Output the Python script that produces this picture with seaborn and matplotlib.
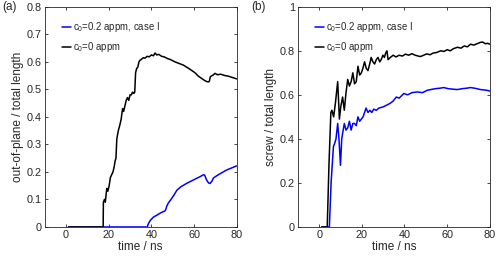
import matplotlib

matplotlib.use("Agg")

import matplotlib.pyplot as plt
import pandas as pd
import seaborn as sns

LABEL_C02 = "c$_0$=0.2 appm, case I"
LABEL_C00 = "c$_0$=0 appm"

# (a) out-of-plane fraction
a_black_t = [1.1, 17.4, 17.5, 18.0, 18.4, 18.8, 19.1, 19.6, 20.2, 20.8,
             21.4, 22.0, 22.6, 23.0, 23.4, 23.8, 24.5, 25.2, 25.8, 26.5,
             27.0, 27.6, 28.2, 28.8, 29.4, 30.0, 30.6, 31.2, 31.8, 32.2,
             32.6, 33.1, 33.6, 34.2, 34.7, 35.5, 36.2, 37.0, 38.0, 39.0,
             40.0, 41.0, 41.7, 42.5, 43.5, 44.8, 46.0, 47.5, 49.0, 51.0,
             53.0, 55.0, 57.3, 59.0, 60.5, 62.0, 63.5, 65.0, 66.0, 66.8,
             67.2, 67.6, 68.0, 69.0, 69.8, 71.0, 72.5, 74.5, 76.0, 78.0, 80.0]
a_black_v = [0, 0, 0.09, 0.10, 0.09, 0.12, 0.14, 0.13, 0.15, 0.18,
             0.19, 0.20, 0.22, 0.24, 0.25, 0.32, 0.35, 0.37, 0.39, 0.43,
             0.42, 0.44, 0.46, 0.47, 0.46, 0.48, 0.48, 0.49, 0.485, 0.49,
             0.56, 0.576, 0.58, 0.60, 0.606, 0.61, 0.615, 0.613, 0.62, 0.618,
             0.625, 0.622, 0.632, 0.625, 0.627, 0.62, 0.618, 0.612, 0.608, 0.60,
             0.594, 0.588, 0.577, 0.568, 0.56, 0.548, 0.54, 0.532, 0.528, 0.527,
             0.53, 0.545, 0.548, 0.552, 0.558, 0.553, 0.555, 0.55, 0.548, 0.543, 0.538]

a_blue_t = [1.1, 38.1, 38.6, 39.6, 41.0, 42.8, 44.5, 46.0, 46.6, 47.2,
            48.0, 49.0, 50.5, 52.0, 54.0, 56.7, 59.0, 61.0, 62.9, 64.5,
            65.0, 65.8, 66.8, 67.5, 68.5, 69.1, 71.0, 73.0, 75.3, 77.5, 80.0]
a_blue_v = [0, 0, 0.012, 0.025, 0.036, 0.044, 0.052, 0.057, 0.06, 0.075,
            0.088, 0.098, 0.115, 0.134, 0.147, 0.159, 0.168, 0.176, 0.183, 0.19,
            0.188, 0.172, 0.16, 0.158, 0.168, 0.178, 0.188, 0.197, 0.207, 0.214, 0.222]

# (b) screw fraction
b_black_t = [1.2, 3.8, 4.6, 5.5, 6.0, 6.8, 7.6, 8.7, 9.5, 10.2,
             11.0, 11.8, 12.6, 13.4, 14.2, 15.0, 15.8, 16.6, 17.4, 18.2,
             19.0, 19.8, 20.5, 21.3, 22.1, 22.9, 23.7, 24.4, 25.2, 26.0,
             26.8, 27.6, 28.4, 29.1, 29.9, 30.6, 31.2, 31.8, 32.3, 33.4,
             34.7, 36.0, 37.5, 39.0, 40.5, 42.0, 43.5, 45.0, 46.5, 47.5,
             49.0, 50.5, 52.0, 53.5, 55.0, 57.0, 58.5, 60.0, 61.5, 63.0,
             64.9, 66.5, 68.0, 69.5, 71.0, 72.5, 74.0, 75.5, 76.6, 78.0, 79.0, 80.0]
b_black_v = [0, 0, 0.28, 0.52, 0.53, 0.50, 0.56, 0.66, 0.49, 0.55,
             0.59, 0.53, 0.61, 0.67, 0.64, 0.66, 0.70, 0.65, 0.66, 0.73,
             0.69, 0.70, 0.72, 0.75, 0.72, 0.71, 0.74, 0.77, 0.75, 0.74,
             0.76, 0.77, 0.75, 0.76, 0.78, 0.77, 0.79, 0.80, 0.76, 0.77,
             0.78, 0.772, 0.78, 0.776, 0.785, 0.78, 0.787, 0.78, 0.776, 0.774,
             0.78, 0.786, 0.782, 0.79, 0.792, 0.80, 0.797, 0.805, 0.80, 0.81,
             0.816, 0.812, 0.822, 0.818, 0.83, 0.826, 0.832, 0.838, 0.84, 0.832, 0.834, 0.83]

b_blue_t = [1.2, 4.8, 5.6, 6.7, 7.3, 7.9, 8.7, 9.3, 10.0, 10.6,
            11.1, 11.8, 12.6, 13.4, 14.2, 15.0, 15.8, 16.6, 17.4, 18.2,
            19.0, 19.8, 20.6, 21.3, 22.0, 22.9, 23.8, 24.7, 25.6, 26.8,
            28.0, 29.9, 31.0, 32.0, 33.0, 34.5, 36.2, 37.5, 39.7, 41.5,
            43.5, 46.0, 48.5, 50.5, 52.3, 54.5, 56.5, 58.5, 60.5, 62.5,
            64.8, 67.0, 69.0, 71.0, 73.0, 75.7, 77.5, 79.0, 80.0]
b_blue_v = [0, 0, 0.2, 0.365, 0.38, 0.40, 0.47, 0.40, 0.28, 0.40,
            0.43, 0.47, 0.44, 0.45, 0.48, 0.44, 0.47, 0.47, 0.46, 0.50,
            0.48, 0.49, 0.50, 0.52, 0.54, 0.52, 0.53, 0.52, 0.535, 0.53,
            0.54, 0.545, 0.55, 0.555, 0.56, 0.57, 0.59, 0.585, 0.606, 0.60,
            0.61, 0.613, 0.61, 0.62, 0.624, 0.628, 0.63, 0.633, 0.628, 0.626,
            0.624, 0.628, 0.63, 0.633, 0.63, 0.624, 0.622, 0.62, 0.617]


def make_frame(blue_t, blue_v, black_t, black_v):
    blue = pd.DataFrame({"t": blue_t, "v": blue_v, "case": LABEL_C02})
    black = pd.DataFrame({"t": black_t, "v": black_v, "case": LABEL_C00})
    return pd.concat([blue, black], ignore_index=True)


def style_axes(ax, ylim, yticks, ylabel):
    ax.set_xlim(-10, 80)
    ax.set_xticks([0, 20, 40, 60, 80])
    ax.set_ylim(*ylim)
    ax.set_yticks(yticks)
    ax.set_xlabel("time / ns", fontsize=8.5, labelpad=1)
    ax.set_ylabel(ylabel, fontsize=8.5, labelpad=2)
    ax.tick_params(direction="in", length=2.5, width=0.6, labelsize=7.8,
                   top=True, right=True, colors="#262626", pad=2)
    for s in ax.spines.values():
        s.set_linewidth(0.6)
        s.set_color("#262626")
    handles, labels = ax.get_legend_handles_labels()
    ax.legend(handles, labels, loc="upper left", frameon=False, fontsize=6.9,
              handlelength=0.9, handletextpad=0.2, labelspacing=0.6,
              borderaxespad=1.0, bbox_to_anchor=(0.02, 1.0))


def main():
    sns.set_theme(style="ticks")
    plt.rcParams["font.family"] = ["Liberation Sans", "DejaVu Sans"]
    plt.rcParams["mathtext.fontset"] = "custom"
    plt.rcParams["mathtext.rm"] = "Liberation Sans"
    plt.rcParams["mathtext.it"] = "Liberation Sans:italic"

    fig = plt.figure(figsize=(4.98, 2.6), dpi=100)
    ax_a = fig.add_axes([0.0898, 0.127, 0.3855, 0.847])
    ax_b = fig.add_axes([0.598, 0.127, 0.3855, 0.847])

    palette = {LABEL_C02: "#0000ff", LABEL_C00: "#000000"}
    order = [LABEL_C02, LABEL_C00]

    df_a = make_frame(a_blue_t, a_blue_v, a_black_t, a_black_v)
    sns.lineplot(data=df_a, x="t", y="v", hue="case", hue_order=order,
                 palette=palette, estimator=None, sort=False, lw=1.1, ax=ax_a)
    style_axes(ax_a, (0, 0.8), [0, 0.1, 0.2, 0.3, 0.4, 0.5, 0.6, 0.7, 0.8],
               "out-of-plane / total length")
    ax_a.set_yticklabels(["0", "0.1", "0.2", "0.3", "0.4", "0.5", "0.6", "0.7", "0.8"])

    df_b = make_frame(b_blue_t, b_blue_v, b_black_t, b_black_v)
    sns.lineplot(data=df_b, x="t", y="v", hue="case", hue_order=order,
                 palette=palette, estimator=None, sort=False, lw=1.1, ax=ax_b)
    style_axes(ax_b, (0, 1), [0, 0.2, 0.4, 0.6, 0.8, 1.0],
               "screw / total length")
    ax_b.set_yticklabels(["0", "0.2", "0.4", "0.6", "0.8", "1"])

    fig.text(0.004, 0.972, "(a)", fontsize=8.5, va="center", ha="left")
    fig.text(0.505, 0.972, "(b)", fontsize=8.5, va="center", ha="left")

    fig.savefig("out.png", dpi=100)
    plt.close(fig)


if __name__ == "__main__":
    main()
